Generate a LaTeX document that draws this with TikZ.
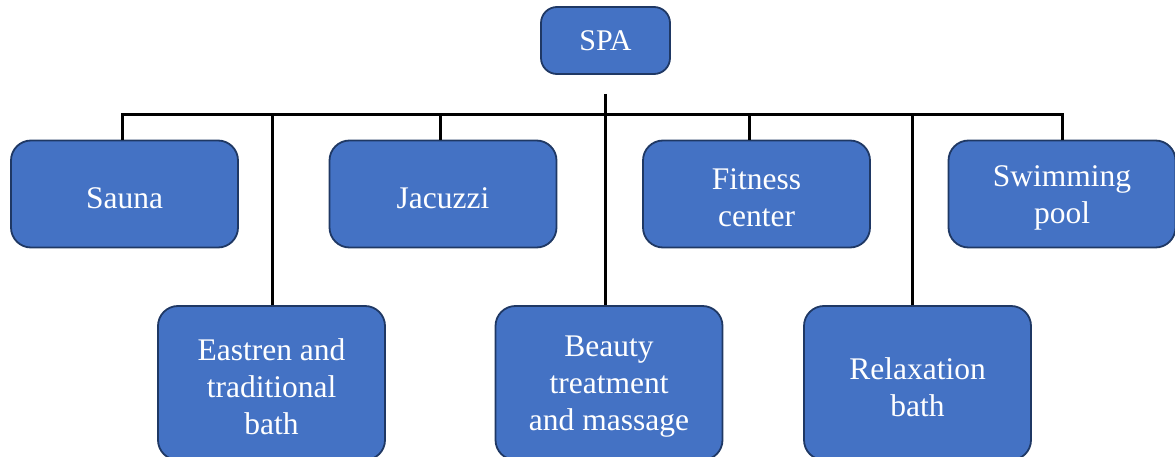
\documentclass[tikz,border=0pt]{standalone}
\usepackage{fontspec}
\setmainfont{Liberation Serif}
\definecolor{boxfill}{HTML}{4472C4}
\definecolor{boxline}{HTML}{1F3864}
\begin{document}
\begin{tikzpicture}[x=1pt,y=-1pt,
  unit/.style={draw=boxline, line width=1.8pt, fill=boxfill, rounded corners=20pt,
    minimum width=227pt, minimum height=107pt, inner sep=0pt,
    label={[caption]center:{#1}}},
  tall/.style={unit={#1}, minimum height=154pt},
  caption/.style={text=white, align=center, inner sep=0pt, yshift=-4pt,
    font=\fontsize{31.5}{37}\selectfont},
  link/.style={line width=3pt, black, line join=miter}]
\useasboundingbox (0,0) rectangle (1175,457);

% root
\node[draw=boxline, line width=1.8pt, fill=boxfill, rounded corners=16pt,
      minimum width=129pt, minimum height=67pt, inner sep=0pt, text=white,
      font=\fontsize{30}{36}\selectfont] (spa) at (605.5,40.5) {SPA};

% upper row
\node[unit={Sauna}]            (sauna)   at (124.5,194) {};
\node[unit={Jacuzzi}]          (jacuzzi) at (443,194)   {};
\node[unit={Fitness\\center}]  (fitness) at (756.5,194) {};
\node[unit={Swimming\\pool}]   (swim)    at (1062,194)  {};

% lower row
\node[tall={Eastren and\\traditional\\bath}]   (eastern)    at (271.5,383) {};
\node[tall={Beauty\\treatment\\and massage}]   (beauty)     at (609,383)   {};
\node[tall={Relaxation\\bath}]                 (relaxation) at (917.5,383) {};

% bus
\coordinate (hub) at (605,94);
\coordinate (bus) at (605,115);
\coordinate (sS) at ([xshift=-2.5pt]sauna.north);
\coordinate (sJ) at ([xshift=-3pt]jacuzzi.north);
\coordinate (sF) at ([xshift=-7.5pt]fitness.north);
\coordinate (sW) at (swim.north);
\coordinate (sE) at ([xshift=0.5pt]eastern.north);
\coordinate (sR) at ([xshift=-5.5pt]relaxation.north);

\draw[link] (sS) -- (sS |- bus) -- (sW |- bus) -- (sW);
\draw[link] (sJ) -- (sJ |- bus);
\draw[link] (sF) -- (sF |- bus);
\draw[link] (hub) -- (hub |- beauty.north);
\draw[link] (sE) -- (sE |- bus);
\draw[link] (sR) -- (sR |- bus);
\end{tikzpicture}
\end{document}
